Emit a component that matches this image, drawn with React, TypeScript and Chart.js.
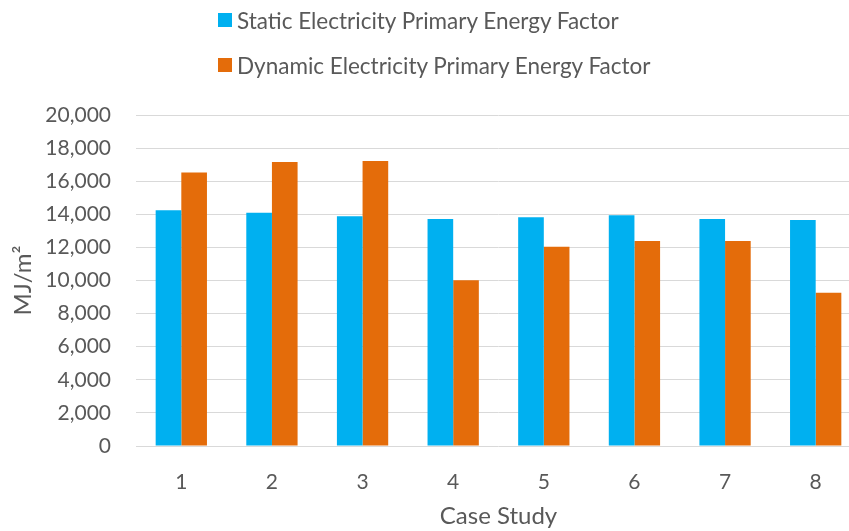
import React, { useEffect, useRef } from "react";
import { Chart, registerables } from "chart.js";

Chart.register(...registerables);

const categories = ["1", "2", "3", "4", "5", "6", "7", "8"];
const staticValues = [14240, 14100, 13880, 13720, 13820, 13940, 13720, 13650];
const dynamicValues = [16530, 17160, 17220, 10020, 12040, 12380, 12380, 9260];
const seriesLabels = [
  "Static Electricity Primary Energy Factor",
  "Dynamic Electricity Primary Energy Factor",
];
const seriesColors = ["#00B0F0", "#E46C0A"];
const yMin = 0;
const yMax = 20000;
const yStep = 2000;
const xTitle = "Case Study";
const yTitle = "MJ/m²";

const FONT = "Lato, 'Open Sans', sans-serif";
const TEXT = "#595959";

export default function App() {
  const ref = useRef<HTMLCanvasElement | null>(null);

  useEffect(() => {
    if (!ref.current) return;
    const chart = new Chart(ref.current, {
      type: "bar",
      data: {
        labels: categories,
        datasets: [
          {
            label: seriesLabels[0],
            data: staticValues,
            backgroundColor: seriesColors[0],
            categoryPercentage: 0.566,
            barPercentage: 1,
          },
          {
            label: seriesLabels[1],
            data: dynamicValues,
            backgroundColor: seriesColors[1],
            categoryPercentage: 0.566,
            barPercentage: 1,
          },
        ],
      },
      options: {
        responsive: false,
        animation: false,
        devicePixelRatio: 1,
        layout: { padding: { top: 115, right: 1, left: 0, bottom: 0 } },
        plugins: {
          legend: { display: false },
          tooltip: { enabled: false },
        },
        scales: {
          x: {
            grid: { display: false },
            border: { display: false },
            ticks: {
              color: TEXT,
              font: { family: FONT, size: 21, lineHeight: 1.2 },
              padding: 16,
            },
            title: {
              display: true,
              text: xTitle,
              color: TEXT,
              font: { family: FONT, size: 24, lineHeight: 1.2 },
              padding: { top: 0, bottom: 0 },
            },
            afterFit: (scale: any) => {
              scale.height = 85;
            },
          },
          y: {
            min: yMin,
            max: yMax,
            grid: { color: "#D9D9D9", lineWidth: 1, drawTicks: false },
            border: { display: false },
            ticks: {
              stepSize: yStep,
              color: TEXT,
              font: { family: FONT, size: 21 },
              padding: 25,
              callback: (v: any) => Number(v).toLocaleString("en-US"),
            },
            title: {
              display: true,
              text: yTitle,
              color: TEXT,
              font: { family: FONT, size: 24, lineHeight: 1.2 },
              padding: { top: 9, bottom: 0 },
            },
            afterFit: (scale: any) => {
              scale.width = 136;
            },
          },
        },
      },
    });
    return () => chart.destroy();
  }, []);

  const legendRow = (i: number, top: number) => (
    <div
      key={i}
      style={{
        position: "absolute",
        left: 218,
        top,
        height: 30,
        display: "flex",
        alignItems: "center",
        whiteSpace: "nowrap",
      }}
    >
      <div style={{ width: 14, height: 14, background: seriesColors[i], marginRight: 5 }} />
      <span style={{ fontFamily: FONT, fontSize: 22.5, color: TEXT }}>{seriesLabels[i]}</span>
    </div>
  );

  return (
    <div
      style={{
        position: "fixed",
        left: 0,
        top: 0,
        width: 849,
        height: 531,
        overflow: "hidden",
        background: "#fff",
      }}
    >
      <canvas ref={ref} width={862} height={531} style={{ display: "block" }} />
      {legendRow(0, 5)}
      {legendRow(1, 50)}
    </div>
  );
}
